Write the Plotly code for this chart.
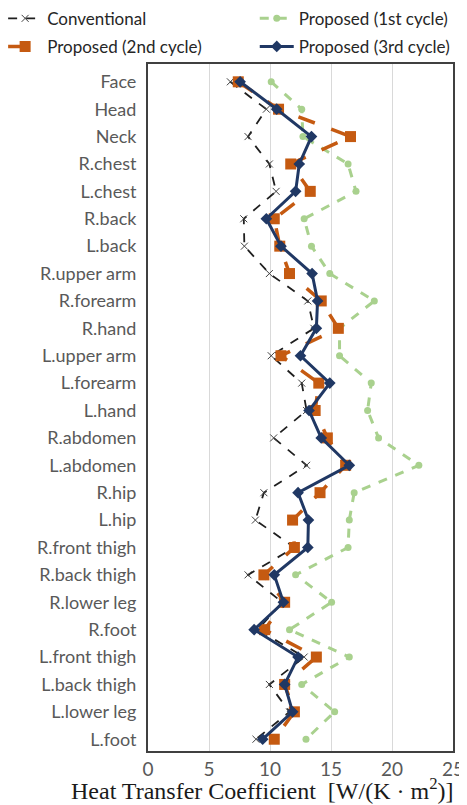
import plotly.graph_objects as go

categories = ["Face", "Head", "Neck", "R.chest", "L.chest", "R.back", "L.back",
              "R.upper arm", "R.forearm", "R.hand", "L.upper arm", "L.forearm",
              "L.hand", "R.abdomen", "L.abdomen", "R.hip", "L.hip",
              "R.front thigh", "R.back thigh", "R.lower leg", "R.foot",
              "L.front thigh", "L.back thigh", "L.lower leg", "L.foot"]

conventional = [6.75, 9.7, 8.2, 9.95, 10.5, 7.85, 7.9, 9.95, 13.1, 13.6, 10.1, 12.6,
                13.0, 10.3, 13.0, 9.5, 8.8, 12.0, 8.2, 11.0, 9.0, 12.8, 9.95, 11.6, 8.85]
proposed_1st = [10.1, 12.6, 12.7, 16.4, 17.05, 12.8, 13.4, 14.9, 18.55, 15.7, 15.7, 18.3,
                18.0, 18.9, 22.2, 16.9, 16.5, 16.4, 12.1, 15.05, 11.6, 16.5, 12.6, 15.3, 12.95]
proposed_2nd = [7.4, 10.7, 16.6, 11.7, 13.3, 10.35, 10.8, 11.6, 14.2, 15.6, 10.9, 14.0,
                13.7, 14.7, 16.2, 14.1, 11.85, 12.0, 9.5, 11.2, 9.55, 13.8, 11.2, 12.0, 10.35]
proposed_3rd = [7.55, 10.55, 13.4, 12.4, 12.1, 9.7, 10.9, 13.45, 13.9, 13.8, 12.5, 14.9,
                13.2, 14.2, 16.5, 12.3, 13.15, 13.1, 10.35, 11.1, 8.7, 12.3, 11.2, 11.85, 9.4]

x_ticks = [0, 5, 10, 15, 20, 25]
x_title = "Heat Transfer Coefficient  [W/(K · m<sup>2</sup>)]"

fig = go.Figure()

fig.add_trace(go.Scatter(
    x=conventional, y=categories, name="Conventional", mode="lines+markers",
    legend="legend", legendgroup="a",
    line=dict(color="#1f1f1f", width=1.8, dash="dash"),
    marker=dict(symbol="x-thin", size=7, line=dict(color="#404040", width=1)),
))
fig.add_trace(go.Scatter(
    x=proposed_1st, y=categories, name="Proposed (1st cycle)", mode="lines+markers",
    legend="legend2", legendgroup="b",
    line=dict(color="#A9D18E", width=3, dash="dash"),
    marker=dict(symbol="circle", size=7, color="#A9D18E"),
))
fig.add_trace(go.Scatter(
    x=proposed_2nd, y=categories, name="Proposed (2nd cycle)", mode="lines+markers",
    legend="legend", legendgroup="c",
    line=dict(color="#C55A11", width=3.5, dash="longdash"),
    marker=dict(symbol="square", size=11, color="#C55A11"),
))
fig.add_trace(go.Scatter(
    x=proposed_3rd, y=categories, name="Proposed (3rd cycle)", mode="lines+markers",
    legend="legend2", legendgroup="d",
    line=dict(color="#203864", width=3),
    marker=dict(symbol="diamond", size=9, color="#203864"),
))

legend_common = dict(
    orientation="v", yanchor="top", y=1.092, xanchor="left",
    traceorder="grouped", tracegroupgap=3,
    font=dict(size=17, color="#262626"),
    bgcolor="rgba(0,0,0,0)", itemwidth=34,
)

fig.update_layout(
    width=459, height=797,
    margin=dict(l=140, r=14, t=56, b=54, autoexpand=False),
    paper_bgcolor="white", plot_bgcolor="white",
    font=dict(family="Lato, Liberation Sans, sans-serif", color="#595959", size=16),
    showlegend=True,
    legend=dict(x=-0.475, **legend_common),
    legend2=dict(x=0.35, **legend_common),
    xaxis=dict(
        range=[0, 25], tickvals=x_ticks, showgrid=True, gridcolor="#D9D9D9", gridwidth=1,
        zeroline=False, showline=True, mirror=True, linecolor="#404040", linewidth=2,
        ticks="", tickfont=dict(size=19, color="#595959"),
    ),
    yaxis=dict(
        type="category", categoryorder="array", categoryarray=categories,
        range=[24.43, -0.65], showgrid=False, zeroline=False,
        showline=True, mirror=True, linecolor="#404040", linewidth=2,
        ticks="", ticklabelstandoff=6, tickfont=dict(size=18, color="#595959"),
    ),
    annotations=[dict(
        text=x_title, xref="paper", yref="paper", x=0.374, y=-0.0555,
        xanchor="center", yanchor="middle", showarrow=False,
        font=dict(family="Liberation Serif, DejaVu Serif, serif", size=24, color="#1a1a1a"),
    )],
)

fig.write_html("out.html")
